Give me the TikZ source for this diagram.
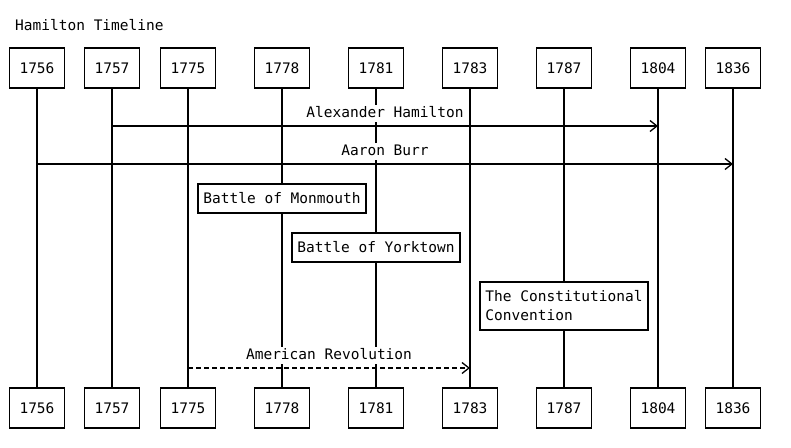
\documentclass[tikz,border=0pt]{standalone}
\usepackage{fontspec}
\setmonofont{DejaVu Sans Mono}
\usetikzlibrary{arrows.meta, positioning}
\newcommand{\hamfont}{\ttfamily\fontsize{14.5}{19}\selectfont}

\begin{document}
\begin{tikzpicture}[x=1pt, y=-1pt,
  year/.style={rectangle, draw, line width=1.3pt, fill=white, minimum width=55pt, minimum height=40pt, inner sep=0pt, font=\hamfont},
  event/.style={rectangle, draw, line width=1.3pt, fill=white, minimum height=29pt, inner xsep=5.5pt, inner ysep=4pt, align=left, font=\hamfont},
  life/.style={line width=1.3pt},
  msg/.style={-{Straight Barb[length=7pt, width=11pt]}, line width=1.3pt},
  lbl/.style={fill=white, inner sep=1.5pt, text height=10.5pt, text depth=3.5pt, font=\hamfont}
]
\useasboundingbox (0,0) rectangle (791,447);
\node[anchor=west, inner sep=0pt, font=\hamfont] (title) at (15,25) {Hamilton Timeline};

\node[year] (t1756) at (37,68) {1756};
\node[year] (t1757) at (112,68) {1757};
\node[year] (t1775) at (188,68) {1775};
\node[year] (t1778) at (282,68) {1778};
\node[year] (t1781) at (376,68) {1781};
\node[year] (t1783) at (470,68) {1783};
\node[year] (t1787) at (564,68) {1787};
\node[year] (t1804) at (658,68) {1804};
\node[year] (t1836) at (733,68) {1836};

\node[year] (b1756) at (37,408) {1756};
\node[year] (b1757) at (112,408) {1757};
\node[year] (b1775) at (188,408) {1775};
\node[year] (b1778) at (282,408) {1778};
\node[year] (b1781) at (376,408) {1781};
\node[year] (b1783) at (470,408) {1783};
\node[year] (b1787) at (564,408) {1787};
\node[year] (b1804) at (658,408) {1804};
\node[year] (b1836) at (733,408) {1836};

\draw[life] (t1756) -- (b1756);
\draw[life] (t1757) -- (b1757);
\draw[life] (t1775) -- (b1775);
\draw[life] (t1778) -- (b1778);
\draw[life] (t1781) -- (b1781);
\draw[life] (t1783) -- (b1783);
\draw[life] (t1787) -- (b1787);
\draw[life] (t1804) -- (b1804);
\draw[life] (t1836) -- (b1836);

\draw[msg] (t1757 |- 0,126) -- (t1804 |- 0,126) node[lbl, midway, above=3pt] {Alexander Hamilton};
\draw[msg] (t1756 |- 0,164) -- (t1836 |- 0,164) node[lbl, midway, above=3pt] {Aaron Burr};
\draw[msg, dash pattern=on 5pt off 3pt] (t1775 |- 0,368) -- (t1783 |- 0,368) node[lbl, midway, above=3pt] {American Revolution};

\node[event] (monmouth) at (t1778 |- 0,198.5) {Battle of Monmouth};
\node[event] (yorktown) at (t1781 |- 0,247.5) {Battle of Yorktown};
\node[event, minimum height=48pt] (convention) at (t1787 |- 0,306) {The Constitutional\\Convention};
\end{tikzpicture}
\end{document}
